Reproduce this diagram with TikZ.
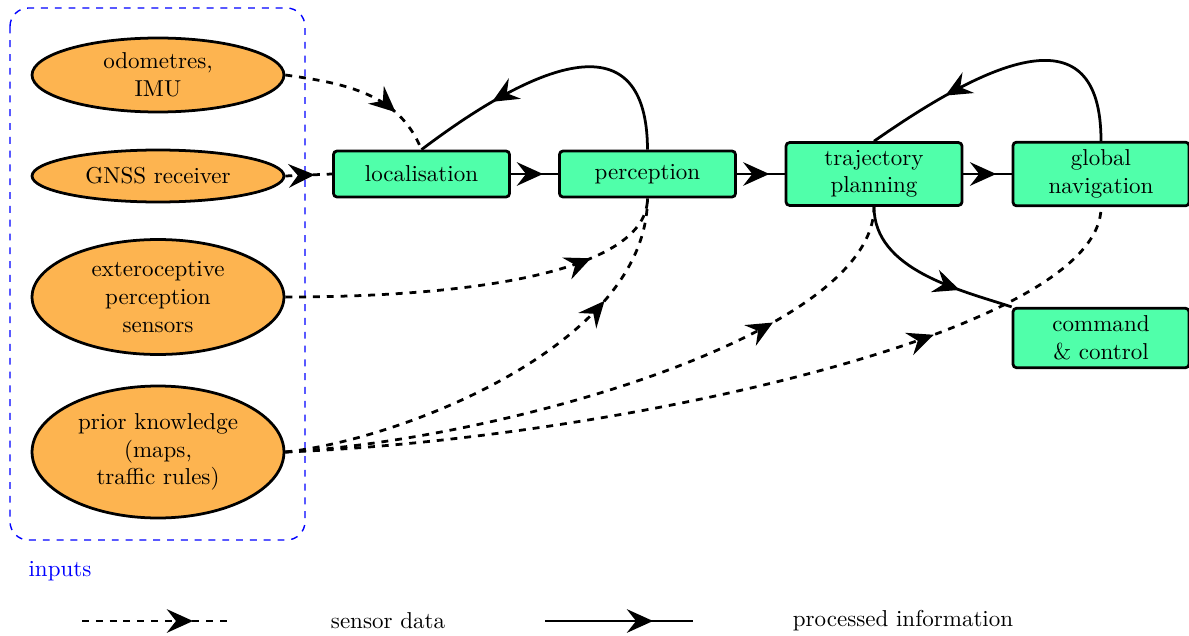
\documentclass[tikz,border=0pt]{standalone}
\usetikzlibrary{arrows.meta,decorations.markings,shapes.geometric}
\definecolor{inorange}{RGB}{253,180,80}
\definecolor{procgreen}{RGB}{80,255,170}
\tikzset{
  inp/.style={ellipse,draw=black,line width=1.2pt,fill=inorange,align=center,inner sep=0pt,minimum width=3.848cm},
  proc/.style={rectangle,rounded corners=1.5pt,draw=black,line width=1.2pt,fill=procgreen,align=center,minimum width=2.688cm},
  midarrow/.style={postaction={decorate},decoration={markings,mark=at position #1 with {\arrow{Stealth[length=0.4cm,width=0.36cm,inset=0.14cm]}}}},
  sensor/.style={line width=1.2pt,dashed},
  processed/.style={line width=1.2pt},
}
\begin{document}
\begin{tikzpicture}[x=0.01527cm,y=-0.01527cm]
\useasboundingbox (0,0) rectangle (1189,635);
% inputs frame
\draw[blue,dashed,rounded corners=8pt,line width=0.6pt] (10,8) rectangle (305,540);
\node[blue,anchor=center] (inplabel) at (60,571) {inputs};
% inputs
\node[inp,minimum height=1.13cm] (odo) at (158,75) {odometres,\\IMU};
\node[inp,minimum height=0.794cm] (gnss) at (158,176) {GNSS receiver};
\node[inp,minimum height=1.756cm] (ext) at (158,297) {exteroceptive\\perception\\sensors};
\node[inp,minimum height=2.016cm] (prior) at (158,452) {prior knowledge\\(maps,\\traffic rules)};
% processes
\node[proc,minimum height=0.702cm] (loc) at (421.5,174) {localisation};
\node[proc,minimum height=0.702cm] (perc) at (647.5,174) {perception};
\node[proc,minimum height=0.947cm] (traj) at (874,174) {trajectory\\planning};
\node[proc,minimum height=0.947cm] (glob) at (1101,174) {global\\navigation};
\node[proc,minimum height=0.870cm] (cmd) at (1101,338) {command\\\& control};
% sensor data
\draw[sensor,midarrow=0.72] (odo.east) to[out=-8,in=112] (loc.north);
\draw[sensor,midarrow=0.63] (gnss.east) -- (loc.west);
\draw[sensor,midarrow=0.78] (ext.east) .. controls (480,297) and (647,270) .. (perc.south);
\draw[sensor,midarrow=0.76] (prior.east) .. controls (400,440) and (647,345) .. (perc.south);
\draw[sensor,midarrow=0.76] (prior.east) .. controls (500,440) and (874,335) .. (traj.south);
\draw[sensor,midarrow=0.75] (prior.east) .. controls (600,440) and (1101,335) .. (glob.south);
% processed information
\draw[processed,midarrow=0.68] (loc) -- (perc);
\draw[processed,midarrow=0.68] (perc) -- (traj);
\draw[processed,midarrow=0.68] (traj) -- (glob);
\draw[processed,midarrow=0.72] (perc.north) .. controls (647,20) and (540,60) .. (loc.north);
\draw[processed,midarrow=0.72] (glob.north) .. controls (1101,10) and (990,60) .. (traj.north);
\draw[processed,midarrow=0.7] (traj.south) .. controls (874,270) and (960,290) .. (cmd.north west);
% legend
\coordinate (ls1) at (82,621);
\coordinate (ls2) at (230,621);
\draw[sensor,midarrow=0.75] (ls1) -- (ls2);
\node (lsens) at (388,621) {sensor data};
\coordinate (lp1) at (545,621);
\coordinate (lp2) at (693,621);
\draw[processed,midarrow=0.73] (lp1) -- (lp2);
\node (lproc) at (903,621) {processed information};
\end{tikzpicture}
\end{document}
